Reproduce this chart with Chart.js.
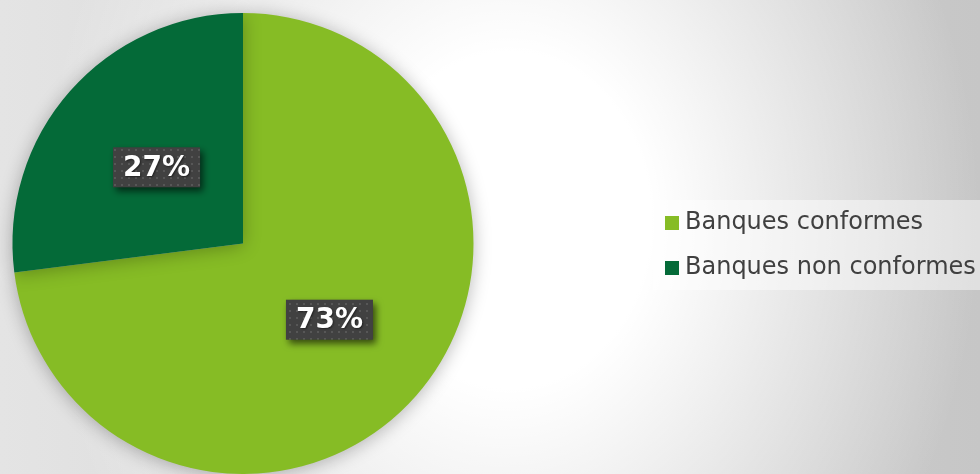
<!DOCTYPE html>
<html>
<head>
<meta charset="utf-8">
<script src="https://cdn.jsdelivr.net/npm/chart.js@4.4.1/dist/chart.umd.min.js"></script>
<style>
  html, body { margin: 0; padding: 0; }
  #wrap {
    width: 980px; height: 474px; position: relative;
    background:
      radial-gradient(ellipse 470px 560px at 510px 220px, rgba(255,255,255,1) 0%, rgba(255,255,255,1) 30%, rgba(255,255,255,0) 100%),
      linear-gradient(to right, #e4e4e4, #c6c6c6);
  }
</style>
</head>
<body>
<div id="wrap"><canvas id="pieChart"></canvas></div>
<script>
// Chart data
const categories = ["Banques conformes", "Banques non conformes"];
const shares = [73, 27];
const sliceColors = ["#86BC25", "#046A38"];

// dotted fill used behind the percentage labels
function dotPattern(ctx) {
    const c = document.createElement("canvas");
    c.width = 7; c.height = 7;
    const p = c.getContext("2d");
    p.fillStyle = "#414141";
    p.fillRect(0, 0, 7, 7);
    p.fillStyle = "#575757";
    p.fillRect(2, 2, 2, 2);
    return ctx.createPattern(c, "repeat");
}

// soft halo under the pie
const pieShadow = {
    id: "pieShadow",
    beforeDatasetsDraw(chart) {
        const ctx = chart.ctx;
        ctx.save();
        ctx.shadowColor = "rgba(0,0,0,0.28)";
        ctx.shadowBlur = 18;
        ctx.shadowOffsetY = 2;
    },
    afterDatasetsDraw(chart) {
        chart.ctx.restore();
    }
};

// percentage boxes at the centre of each slice
const sliceLabels = {
    id: "sliceLabels",
    afterDatasetsDraw(chart) {
        const ctx = chart.ctx;
        const meta = chart.getDatasetMeta(0);
        const fill = dotPattern(ctx);
        ctx.save();
        ctx.font = "bold 28px 'DejaVu Sans'";
        ctx.textAlign = "center";
        ctx.textBaseline = "middle";
        meta.data.forEach((arc, i) => {
            const pos = arc.tooltipPosition();
            const text = shares[i] + "%";
            const w = ctx.measureText(text).width + 20;
            const h = 40;
            ctx.save();
            ctx.shadowColor = "rgba(0,0,0,0.6)";
            ctx.shadowBlur = 7;
            ctx.shadowOffsetX = 3;
            ctx.shadowOffsetY = 4;
            ctx.fillStyle = fill;
            ctx.fillRect(pos.x - w / 2, pos.y - h / 2, w, h);
            ctx.restore();
            ctx.save();
            ctx.shadowColor = "rgba(0,0,0,0.5)";
            ctx.shadowBlur = 2;
            ctx.shadowOffsetX = 1;
            ctx.shadowOffsetY = 1;
            ctx.fillStyle = "#ffffff";
            ctx.fillText(text, pos.x, pos.y + 1);
            ctx.restore();
        });
        ctx.restore();
    }
};

// legend drawn on the right
const sideLegend = {
    id: "sideLegend",
    afterDraw(chart) {
        const ctx = chart.ctx;
        const labels = chart.data.labels;
        const colors = chart.data.datasets[0].backgroundColor;
        ctx.save();
        ctx.fillStyle = "rgba(255,255,255,0.45)";
        ctx.fillRect(653, 200, 327, 90);
        ctx.font = "24px 'DejaVu Sans'";
        ctx.textBaseline = "middle";
        labels.forEach((lab, i) => {
            const y = 223 + i * 45;
            ctx.fillStyle = colors[i];
            ctx.fillRect(665, y - 7, 14, 14);
            ctx.fillStyle = "#404040";
            ctx.fillText(lab, 685, y);
        });
        ctx.restore();
    }
};

new Chart(document.getElementById("pieChart").getContext("2d"), {
    type: "pie",
    data: {
        labels: categories,
        datasets: [{
            data: shares,
            backgroundColor: sliceColors,
            borderWidth: 0,
        }],
    },
    options: {
        responsive: true,
        maintainAspectRatio: false,
        animation: false,
        layout: {
            padding: { left: 12, right: 506, top: 13, bottom: 0 }
        },
        plugins: {
            legend: { display: false },
            tooltip: { enabled: false }
        }
    },
    plugins: [pieShadow, sliceLabels, sideLegend]
});
</script>
</body>
</html>
